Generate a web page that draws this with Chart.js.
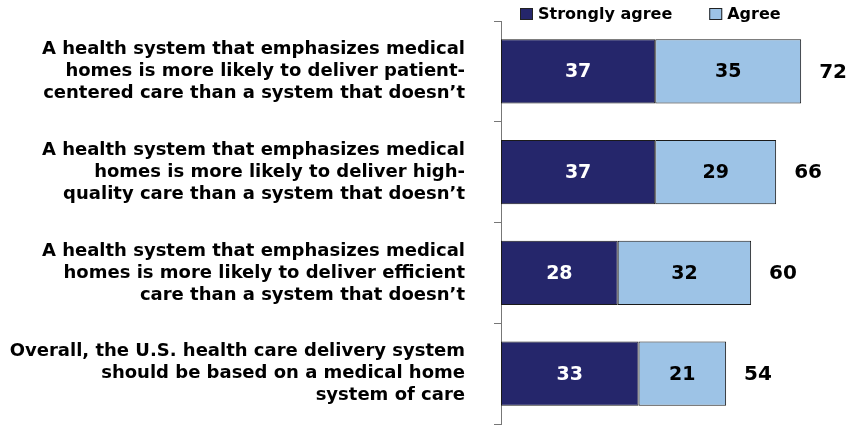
<!DOCTYPE html>
<html>
<head>
<meta charset="utf-8">
<script src="https://cdn.jsdelivr.net/npm/chart.js@4/dist/chart.umd.min.js"></script>
<style>
  html, body { margin: 0; padding: 0; background: #fff; }
  #wrap { width: 847px; height: 425px; }
</style>
</head>
<body>
<div id="wrap"><canvas id="medHomeChart" width="847" height="425"></canvas></div>
<script>
const categories = [
    ["A health system that emphasizes medical", "homes is more likely to deliver patient-", "centered care than a system that doesn\u2019t"],
    ["A health system that emphasizes medical", "homes is more likely to deliver high-", "quality care than a system that doesn\u2019t"],
    ["A health system that emphasizes medical", "homes is more likely to deliver efficient", "care than a system that doesn\u2019t"],
    ["Overall, the U.S. health care delivery system", "should be based on a medical home", "system of care"]
];
const stronglyAgree = [37, 37, 28, 33];
const agree = [35, 29, 32, 21];
const totals = [72, 66, 60, 54];

const seriesNames = ["Strongly agree", "Agree"];
const darkBlue = "#25266b";
const lightBlue = "#9dc3e6";
const fontFamily = "'DejaVu Sans', Arial, sans-serif";

// value labels inside segments + totals at bar end
const barLabels = {
    id: "barLabels",
    afterDatasetsDraw(chart){
        const ctx = chart.ctx;
        ctx.save();
        ctx.textBaseline = "middle";
        ctx.textAlign = "center";
        ctx.font = "bold 19px " + fontFamily;
        chart.data.datasets.forEach((ds, i) => {
            const meta = chart.getDatasetMeta(i);
            meta.data.forEach((bar, j) => {
                ctx.fillStyle = i === 0 ? "#ffffff" : "#000000";
                ctx.fillText(ds.data[j], (bar.x + bar.base) / 2, bar.y + 1);
            });
        });
        const last = chart.getDatasetMeta(chart.data.datasets.length - 1);
        ctx.textAlign = "left";
        ctx.fillStyle = "#000000";
        ctx.font = "bold 20px " + fontFamily;
        last.data.forEach((bar, j) => {
            ctx.fillText(totals[j], bar.x + 18, bar.y + 1);
        });
        ctx.restore();
    }
};

// legend across the top, right of the axis
const topLegend = {
    id: "topLegend",
    afterDraw(chart){
        const ctx = chart.ctx;
        ctx.save();
        ctx.font = "bold 16px " + fontFamily;
        ctx.textBaseline = "middle";
        ctx.textAlign = "left";
        let x = 520;
        const y = 14;
        chart.data.datasets.forEach((ds) => {
            ctx.fillStyle = ds.backgroundColor;
            ctx.fillRect(x, y - 6, 13, 12);
            ctx.strokeStyle = "#222";
            ctx.lineWidth = 1;
            ctx.strokeRect(x + 0.5, y - 5.5, 12, 11);
            ctx.fillStyle = "#000";
            ctx.fillText(ds.label, x + 18, y + 1);
            x += 18 + ctx.measureText(ds.label).width + 37;
        });
        ctx.restore();
    }
};

new Chart(document.getElementById("medHomeChart"), {
    type: "bar",
    data: {
        labels: categories,
        datasets: [{
            label: seriesNames[0],
            data: stronglyAgree,
            backgroundColor: darkBlue,
            borderColor: "#1a1a1a",
            borderWidth: 1,
            borderSkipped: false
        }, {
            label: seriesNames[1],
            data: agree,
            backgroundColor: lightBlue,
            borderColor: "#1a1a1a",
            borderWidth: 1,
            borderSkipped: false
        }]
    },
    options: {
        indexAxis: "y",
        responsive: false,
        animation: false,
        barPercentage: 0.64,
        categoryPercentage: 1,
        layout: { padding: { top: 21, bottom: 1, left: 0, right: 0 } },
        plugins: {
            legend: { display: false },
            tooltip: { enabled: false }
        },
        scales: {
            x: {
                stacked: true,
                display: false,
                min: 0,
                max: 83
            },
            y: {
                stacked: true,
                afterFit(scale){
                    scale.width = 501;
                    scale.paddingTop = 0;
                    scale.paddingBottom = 0;
                },
                grid: {
                    offset: true,
                    drawOnChartArea: false,
                    tickLength: 7,
                    color: "#777"
                },
                border: { color: "#777", width: 1 },
                ticks: {
                    padding: 29,
                    color: "#000",
                    font: { family: fontFamily, size: 18, weight: "bold", lineHeight: 1.22 }
                }
            }
        }
    },
    plugins: [barLabels, topLegend]
});
</script>
</body>
</html>
